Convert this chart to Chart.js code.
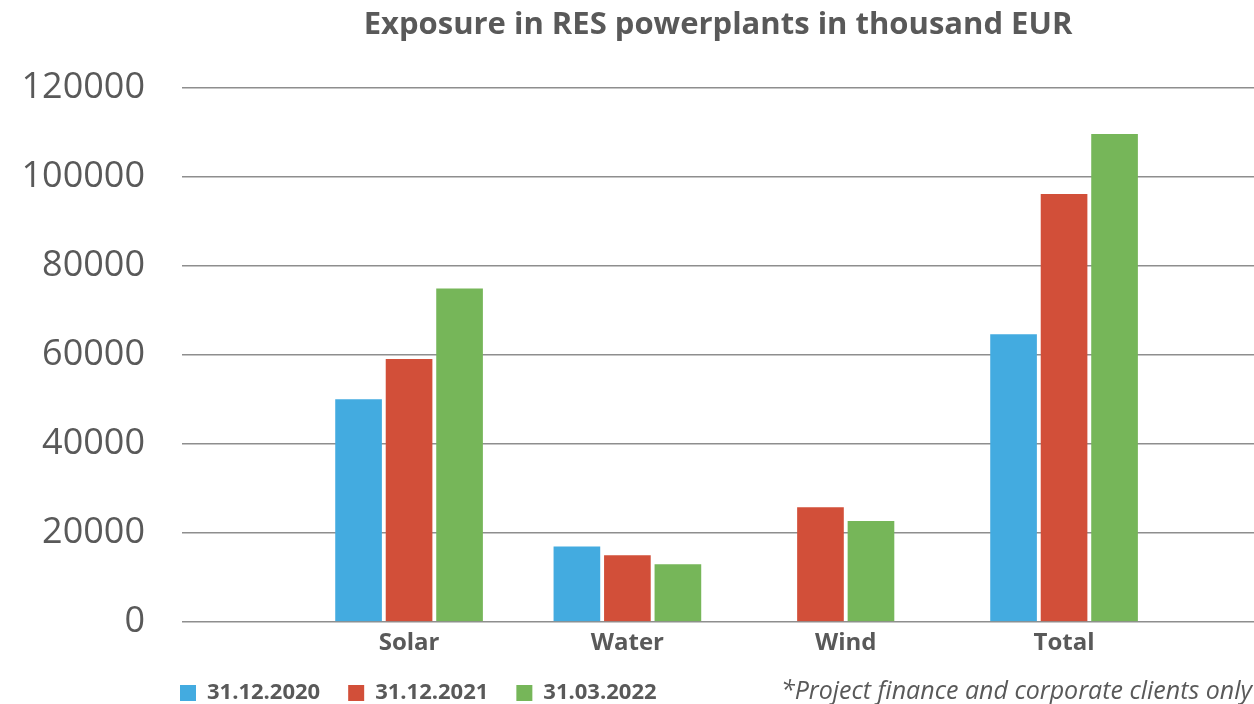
<!DOCTYPE html>
<html>
<head>
<meta charset="utf-8">
<script src="https://cdn.jsdelivr.net/npm/chart.js@4/dist/chart.umd.min.js"></script>
<style>
  body { margin: 0; background: #fff; }
  #wrap { width: 1254px; height: 704px; }
</style>
</head>
<body>
<div id="wrap"><canvas id="resChart" width="1254" height="704"></canvas></div>
<script>
// Chart data
const categories = ['Solar', 'Water', 'Wind', 'Total'];
const seriesNames = ['31.12.2020', '31.12.2021', '31.03.2022'];
const values2020 = [50100, 17000, null, 64700];
const values2021 = [59100, 15000, 25800, 96200];
const values2022 = [75000, 13000, 22700, 109700];
const yTicks = [0, 20000, 40000, 60000, 80000, 100000, 120000];

const colors = ['#43abe0', '#d24f39', '#76b659'];
const textColor = '#595959';
const footnote = '*Project finance and corporate clients only';
const yFont = { family: 'Open Sans', size: 36 };

function toPoints(vals) {
    return vals.map((v, i) => ({ x: i, y: v }));
}

// y labels are mirrored (so they are not clipped by the narrow axis box),
// so the padding has to pull them back left of the plot by their own width
const measure = document.createElement('canvas').getContext('2d');
measure.font = yFont.size + 'px ' + yFont.family;
const widestTick = Math.max(...yTicks.map(v => measure.measureText(String(v)).width));

// footnote on the legend line, right side
const footnotePlugin = {
    id: 'footnote',
    afterDraw(chart) {
        const ctx = chart.ctx;
        ctx.save();
        ctx.font = 'italic 25px "Open Sans"';
        ctx.fillStyle = textColor;
        ctx.textAlign = 'right';
        ctx.textBaseline = 'middle';
        ctx.fillText(footnote, chart.width - 2, 692);
        ctx.restore();
    }
};

const allSeries = [values2020, values2021, values2022];

new Chart(document.getElementById('resChart').getContext('2d'), {
    type: 'bar',
    data: {
        datasets: allSeries.map((vals, i) => ({
            label: seriesNames[i],
            data: toPoints(vals),
            backgroundColor: colors[i],
            borderColor: 'rgba(0,0,0,0)',
            borderWidth: { left: 2.25, right: 2.25, top: 0, bottom: 0 },
            barThickness: 50.5,
            skipNull: true
        }))
    },
    options: {
        responsive: false,
        animation: false,
        layout: { padding: { left: 152, right: 0, top: 0, bottom: 0 } },
        scales: {
            x: {
                type: 'linear',
                offset: false,
                min: -1.04,
                max: 3.87,
                afterBuildTicks: s => { s.ticks = categories.map((c, i) => ({ value: i })); },
                afterFit: s => { s.height = 32; },
                ticks: {
                    autoSkip: false,
                    maxRotation: 0,
                    padding: 9,
                    color: textColor,
                    font: { family: 'Open Sans', size: 24, weight: 'bold', lineHeight: 1 },
                    callback: v => categories[v]
                },
                grid: { display: false, drawTicks: false },
                border: { display: false }
            },
            y: {
                min: 0,
                max: 120000,
                afterBuildTicks: s => { s.ticks = yTicks.map(v => ({ value: v })); },
                afterFit: s => { s.width = 30; },
                ticks: {
                    mirror: true,
                    crossAlign: 'far',
                    padding: -(37 + widestTick),
                    color: textColor,
                    font: yFont,
                    callback: v => String(v)
                },
                grid: { color: '#8e8e8e', lineWidth: 1.5, drawTicks: false },
                border: { display: false }
            }
        },
        plugins: {
            title: {
                display: true,
                text: 'Exposure in RES powerplants in thousand EUR',
                color: textColor,
                fullSize: false,
                font: { family: 'Open Sans', size: 31, weight: 'bold' },
                padding: { top: 7, bottom: 44 }
            },
            legend: {
                position: 'bottom',
                align: 'start',
                maxHeight: 50,
                labels: {
                    boxWidth: 16,
                    boxHeight: 16,
                    padding: 28,
                    color: textColor,
                    font: { family: 'Open Sans', size: 22, weight: 'bold' }
                }
            },
            tooltip: { enabled: false }
        }
    },
    plugins: [footnotePlugin]
});
</script>
</body>
</html>
